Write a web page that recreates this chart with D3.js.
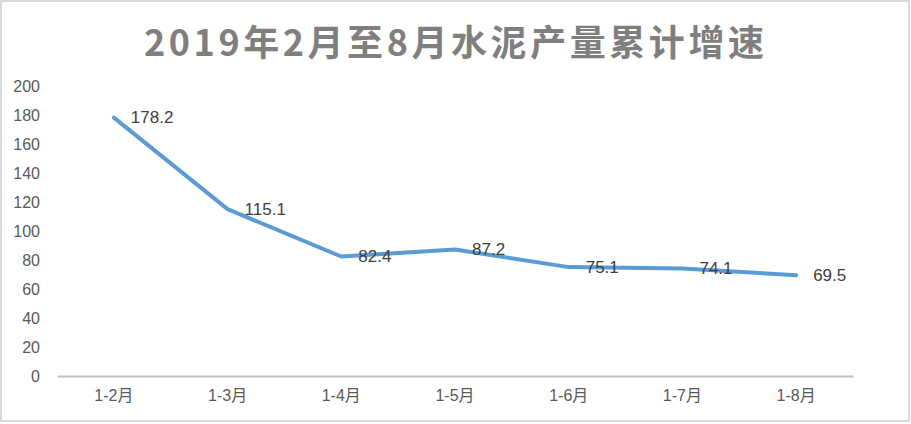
<!DOCTYPE html>
<html><head><meta charset="utf-8">
<script src="https://cdn.jsdelivr.net/npm/d3@7/dist/d3.min.js"></script>
<style>
html,body{margin:0;padding:0;background:#fff;}
text{font-family:"Liberation Sans","Noto Sans CJK SC",sans-serif;}
</style></head>
<body><svg id="c" width="911" height="424"></svg>
<script>
const title = "2019年2月至8月水泥产量累计增速";
const categories = ["1-2月","1-3月","1-4月","1-5月","1-6月","1-7月","1-8月"];
const values = [178.2,115.1,82.4,87.2,75.1,74.1,69.5];
const yTicks = [0,20,40,60,80,100,120,140,160,180,200];

const svg = d3.select("#c");
svg.append("rect").attr("x",1).attr("y",1).attr("width",908).attr("height",420)
  .attr("fill","#fff").attr("stroke","#d9d9d9").attr("stroke-width",2);

const x = d3.scaleBand().domain(categories).range([57,853]);
const y = d3.scaleLinear().domain([0,200]).range([376,86]);

svg.append("text").attr("x",454).attr("y",56).attr("text-anchor","middle")
  .attr("font-size",36).attr("font-weight","bold").attr("fill","#7f7f7f")
  .style("font-family","'Noto Sans CJK SC',sans-serif")
  .attr("textLength",620).attr("lengthAdjust","spacing").text(title);

const yAxis = svg.append("g").attr("transform","translate(57,0)")
  .call(d3.axisLeft(y).tickValues(yTicks).tickSize(0).tickPadding(17));
yAxis.select(".domain").remove();
yAxis.selectAll("text").attr("font-size",16).attr("fill","#595959")
  .style("font-family","'Liberation Sans',sans-serif");

const xAxis = svg.append("g").attr("transform","translate(0,376)")
  .call(d3.axisBottom(x).tickSize(0).tickPadding(14));
xAxis.select(".domain").attr("stroke","#bfbfbf").attr("stroke-width",2);
xAxis.selectAll("text").attr("font-size",16).attr("fill","#595959");

const cx = d => x(d) + x.bandwidth()/2;
const line = d3.line().x((d,i)=>cx(categories[i])).y(d=>y(d));
svg.append("path").datum(values).attr("d",line).attr("fill","none")
  .attr("stroke","#5b9bd5").attr("stroke-width",4).attr("stroke-linejoin","round").attr("stroke-linecap","round");

svg.selectAll(".lbl").data(values).enter().append("text")
  .attr("x",(d,i)=>cx(categories[i])+17).attr("y",d=>y(d)+1)
  .attr("dominant-baseline","middle").attr("font-size",17).attr("fill","#404040")
  .text(d=>d.toFixed(1));
</script></body></html>
